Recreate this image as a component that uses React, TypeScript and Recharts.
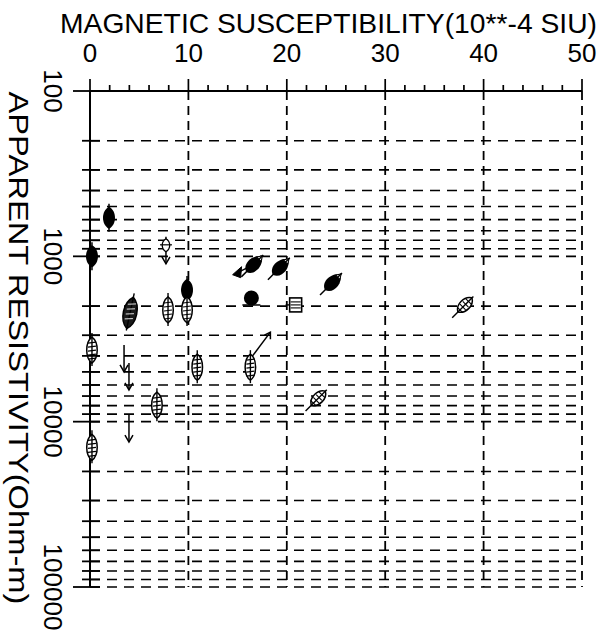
import React from 'react';
import { ScatterChart, Scatter, XAxis, YAxis, CartesianGrid, ReferenceLine } from 'recharts';

// ---- axis values ----
const xTickValues = [0, 2, 4, 6, 8, 10, 12, 14, 16, 18, 20, 22, 24, 26, 28, 30, 32, 34, 36, 38, 40, 42, 44, 46, 48, 50];
const xTickLabels = [0, 10, 20, 30, 40, 50];
const xGridValues = [10, 20, 30, 40, 50];
const yTickValues = [
  100, 200, 300, 400, 500, 600, 700, 800, 900,
  1000, 2000, 3000, 4000, 5000, 6000, 7000, 8000, 9000,
  10000, 20000, 30000, 40000, 50000, 60000, 70000, 80000, 90000,
  100000,
];
const yTickLabels = [100, 1000, 10000, 100000];

// ---- data (susceptibility, apparent resistivity) ----
const filledLeaf = [
  { x: 1.93, y: 585 },
  { x: 0.2, y: 1000 },
  { x: 9.86, y: 1596 },
];
const filledRound = [{ x: 16.4, y: 1786 }];
const filledTilted = [
  { x: 16.6, y: 1126 },
  { x: 19.3, y: 1172 },
  { x: 24.6, y: 1449 },
];
const hatchedLeaf = [
  { x: 9.86, y: 2110 },
  { x: 7.93, y: 2110 },
  { x: 0.2, y: 3690 },
  { x: 10.9, y: 4680 },
  { x: 6.8, y: 7943 },
  { x: 0.2, y: 14300 },
];
const darkLeaf = [{ x: 4.07, y: 2198 }];
const hatchedTilted = [
  { x: 38.1, y: 1967 },
  { x: 23.2, y: 7210 },
];
const hatchedWithArrow = [{ x: 16.3, y: 4680 }];
const boxes = [{ x: 20.9, y: 1967 }];
const triangles = [{ x: 15.0, y: 1256 }];
const arrowLeafDown = [{ x: 7.72, y: 762 }];
const arrowsDown = [
  { x: 3.46, y: 3435 },
  { x: 3.96, y: 4416 },
  { x: 3.96, y: 9120 },
];

// ---- layout ----
const W = 604;
const H = 639;
const PLOT_LEFT = 90;
const PLOT_TOP = 91;
const PLOT_RIGHT = 582;
const PLOT_BOTTOM = 587;
const FONT = '"Liberation Sans", Arial, sans-serif';
const INK = '#000';

const XTick = (props: any) => {
  const { x, payload } = props;
  const v = payload.value;
  const major = xTickLabels.includes(v);
  return (
    <g>
      <line x1={x} x2={x} y1={PLOT_TOP} y2={PLOT_TOP - (major ? 12 : 6)} stroke={INK} strokeWidth={1.7} />
      {major && (
        <text x={x} y={62} textAnchor="middle" fontSize={26} fontFamily={FONT} fill={INK}>
          {v}
        </text>
      )}
    </g>
  );
};

const YTick = (props: any) => {
  const { y, payload } = props;
  const v = payload.value;
  const major = yTickLabels.includes(v);
  return (
    <g>
      <line x1={major ? 73 : 82} x2={100} y1={y} y2={y} stroke={INK} strokeWidth={1.8} />
      {major && (
        <text
          x={44}
          y={y}
          transform={`rotate(90, 44, ${y})`}
          textAnchor="middle"
          fontSize={26}
          fontFamily={FONT}
          fill={INK}
        >
          {v}
        </text>
      )}
    </g>
  );
};

const LEAF = 'M0,-13 C7,-8 7,8 0,13 C-7,8 -7,-8 0,-13Z';

const FilledLeafShape = ({ cx, cy }: any) => (
  <g transform={`translate(${cx},${cy})`}>
    <path d="M0,-11 C8,-7 8,7 0,11 C-8,7 -8,-7 0,-11Z" fill={INK} />
    <line x1={0} y1={-14} x2={0} y2={14} stroke={INK} strokeWidth={1.5} />
  </g>
);

const FilledRoundShape = ({ cx, cy }: any) => (
  <g transform={`translate(${cx},${cy})`}>
    <circle r={7.5} fill={INK} />
    <line x1={-9} y1={7} x2={9} y2={7} stroke={INK} strokeWidth={1.5} />
  </g>
);

const FilledTiltedShape = ({ cx, cy }: any) => (
  <g transform={`translate(${cx},${cy}) rotate(45)`}>
    <path d="M0,-12 C8,-7 9,7 0,10 C-9,7 -8,-7 0,-12Z" fill={INK} />
    <path d="M0,-13 L3,-8 L-3,-8 Z" fill="#fff" stroke={INK} strokeWidth={1} />
    <line x1={0} y1={-14} x2={0} y2={17} stroke={INK} strokeWidth={1.5} />
  </g>
);

const HatchedLeafShape = ({ cx, cy }: any) => (
  <g transform={`translate(${cx},${cy})`}>
    <path d={LEAF} fill="#fff" stroke={INK} strokeWidth={1.5} />
    <line x1={0} y1={-17} x2={0} y2={16} stroke={INK} strokeWidth={1.4} />
    {[-7, -3, 1, 5, 9].map((h) => (
      <line key={h} x1={-4} x2={4} y1={h} y2={h - 1} stroke={INK} strokeWidth={1.1} />
    ))}
  </g>
);

const DarkLeafShape = ({ cx, cy }: any) => (
  <g transform={`translate(${cx},${cy}) rotate(12)`}>
    <path d="M0,-16 C9,-9 9,9 0,16 C-9,9 -9,-9 0,-16Z" fill="#1a1a1a" stroke={INK} strokeWidth={1.5} />
    <line x1={0} y1={-20} x2={0} y2={18} stroke={INK} strokeWidth={1.4} />
    {[-8, -3, 2, 7].map((h) => (
      <line key={h} x1={-4} x2={4} y1={h} y2={h - 2} stroke="#fff" strokeWidth={0.8} />
    ))}
  </g>
);

const HatchedTiltedShape = ({ cx, cy }: any) => (
  <g transform={`translate(${cx},${cy}) rotate(45)`}>
    <path d="M0,-10 C7,-6 7,6 0,10 C-7,6 -7,-6 0,-10Z" fill="#fff" stroke={INK} strokeWidth={1.5} />
    <line x1={0} y1={-12} x2={0} y2={18} stroke={INK} strokeWidth={1.4} />
    {[-5, -1, 3, 7].map((h) => (
      <line key={h} x1={-4} x2={4} y1={h} y2={h} stroke={INK} strokeWidth={1.1} />
    ))}
  </g>
);

const HatchedArrowShape = ({ cx, cy }: any) => (
  <g>
    <HatchedLeafShape cx={cx} cy={cy} />
    <line x1={cx + 2} y1={cy - 11} x2={cx + 20} y2={cy - 35} stroke={INK} strokeWidth={1.5} />
    <path
      d={`M${cx + 14},${cy - 32} L${cx + 20},${cy - 35} L${cx + 20},${cy - 28}`}
      fill="none"
      stroke={INK}
      strokeWidth={1.5}
    />
  </g>
);

const BoxShape = ({ cx, cy }: any) => (
  <g transform={`translate(${cx},${cy})`}>
    <rect x={-6} y={-7} width={12} height={14} fill="#fff" stroke={INK} strokeWidth={1.6} />
    {[-3, 0, 3].map((h) => (
      <line key={h} x1={-5} x2={5} y1={h} y2={h} stroke={INK} strokeWidth={1.1} />
    ))}
    <line x1={-10} y1={0} x2={-6} y2={0} stroke={INK} strokeWidth={1.4} />
  </g>
);

const TriangleShape = ({ cx, cy }: any) => (
  <g transform={`translate(${cx},${cy})`}>
    <path d="M-5,2 L4,-6 L3,5 Z" fill={INK} stroke={INK} strokeWidth={1} />
    <line x1={-2} y1={1} x2={10} y2={-5} stroke={INK} strokeWidth={1.4} />
  </g>
);

const ArrowDownShape = ({ cx, cy }: any) => (
  <g>
    <line x1={cx} y1={cy} x2={cx} y2={cy + 27} stroke={INK} strokeWidth={1.5} />
    <path
      d={`M${cx - 4},${cy + 20} L${cx},${cy + 27} L${cx + 4},${cy + 20}`}
      fill="none"
      stroke={INK}
      strokeWidth={1.5}
    />
  </g>
);

const ArrowLeafDownShape = ({ cx, cy }: any) => (
  <g>
    <ArrowDownShape cx={cx} cy={cy} />
    <path
      d={`M${cx},${cy + 2} C${cx + 5},${cy + 5} ${cx + 5},${cy + 12} ${cx},${cy + 15} C${cx - 5},${cy + 12} ${cx - 5},${cy + 5} ${cx},${cy + 2}Z`}
      fill="#fff"
      stroke={INK}
      strokeWidth={1.3}
    />
    <line x1={cx - 6} y1={cy + 8} x2={cx + 6} y2={cy + 8} stroke={INK} strokeWidth={1.2} />
  </g>
);

export default function App() {
  return (
    <div style={{ position: 'absolute', left: 0, top: 0, width: W, height: H, background: '#fff' }}>
      <ScatterChart
        width={W}
        height={H}
        margin={{ top: PLOT_TOP - 40, right: W - PLOT_RIGHT, bottom: H - PLOT_BOTTOM, left: PLOT_LEFT - 60 }}
      >
        <CartesianGrid vertical={false} horizontal stroke={INK} strokeWidth={1.6} strokeDasharray="10 7" />
        {xGridValues.map((v) => (
          <ReferenceLine key={v} x={v} stroke={INK} strokeWidth={1.8} strokeDasharray="9 6" />
        ))}
        <XAxis
          type="number"
          dataKey="x"
          orientation="top"
          domain={[0, 50]}
          ticks={xTickValues}
          interval={0}
          height={40}
          tickSize={0}
          tickMargin={0}
          tickLine={false}
          axisLine={{ stroke: INK, strokeWidth: 2 }}
          tick={<XTick />}
        />
        <YAxis
          type="number"
          dataKey="y"
          scale="log"
          domain={[100, 100000]}
          reversed
          ticks={yTickValues}
          interval={0}
          width={60}
          tickSize={0}
          tickMargin={0}
          tickLine={false}
          axisLine={{ stroke: INK, strokeWidth: 2 }}
          tick={<YTick />}
        />
        <Scatter data={filledLeaf} shape={<FilledLeafShape />} isAnimationActive={false} />
        <Scatter data={filledRound} shape={<FilledRoundShape />} isAnimationActive={false} />
        <Scatter data={filledTilted} shape={<FilledTiltedShape />} isAnimationActive={false} />
        <Scatter data={hatchedLeaf} shape={<HatchedLeafShape />} isAnimationActive={false} />
        <Scatter data={darkLeaf} shape={<DarkLeafShape />} isAnimationActive={false} />
        <Scatter data={hatchedTilted} shape={<HatchedTiltedShape />} isAnimationActive={false} />
        <Scatter data={hatchedWithArrow} shape={<HatchedArrowShape />} isAnimationActive={false} />
        <Scatter data={boxes} shape={<BoxShape />} isAnimationActive={false} />
        <Scatter data={triangles} shape={<TriangleShape />} isAnimationActive={false} />
        <Scatter data={arrowLeafDown} shape={<ArrowLeafDownShape />} isAnimationActive={false} />
        <Scatter data={arrowsDown} shape={<ArrowDownShape />} isAnimationActive={false} />
      </ScatterChart>
      <svg
        width={W}
        height={H}
        style={{ position: 'absolute', left: 0, top: 0, pointerEvents: 'none' }}
      >
        <text
          x={60}
          y={33}
          fontSize={28}
          fontFamily={FONT}
          fill={INK}
          textLength={537}
          lengthAdjust="spacingAndGlyphs"
        >
          MAGNETIC SUSCEPTIBILITY(10**-4 SIU)
        </text>
        <text
          x={9}
          y={348}
          transform="rotate(90, 9, 348)"
          textAnchor="middle"
          fontSize={28}
          fontFamily={FONT}
          fill={INK}
          textLength={513}
          lengthAdjust="spacingAndGlyphs"
        >
          APPARENT RESISTIVITY(Ohm-m)
        </text>
      </svg>
    </div>
  );
}
